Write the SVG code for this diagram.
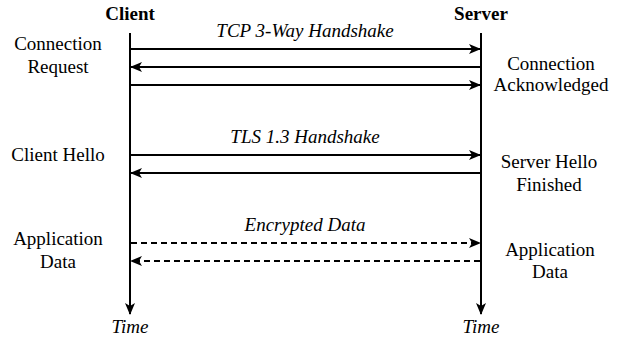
<svg xmlns="http://www.w3.org/2000/svg" width="623" height="344" viewBox="0 0 623 344">
<style>
.t{font-family:'Times New Roman','Liberation Serif',serif;font-size:19px;text-anchor:middle;fill:#000}
.b{font-weight:bold}
.i{font-style:italic}
.life{stroke:#000;stroke-width:2;fill:none}
.msg{stroke:#000;stroke-width:2;fill:none}
.dash{stroke-dasharray:6 4}
</style>
<defs>
<marker id="ah" viewBox="0 0 12 10" refX="11" refY="5" markerWidth="12" markerHeight="10" markerUnits="userSpaceOnUse" orient="auto">
<path d="M0,0 L12,5 L0,10 L3,5 Z" fill="#000"/>
</marker>
</defs>
<rect width="623" height="344" fill="#fff"/>
<g id="client">
<text class="t b" x="130" y="20" font-family="Times New Roman, Liberation Serif, serif">Client</text>
<line class="life" x1="130" y1="33" x2="130" y2="314" marker-end="url(#ah)"/>
<text class="t i" x="130" y="333" font-family="Times New Roman, Liberation Serif, serif">Time</text>
</g>
<g id="server">
<text class="t b" x="481" y="20" font-family="Times New Roman, Liberation Serif, serif">Server</text>
<line class="life" x1="481" y1="33" x2="481" y2="314" marker-end="url(#ah)"/>
<text class="t i" x="481" y="333" font-family="Times New Roman, Liberation Serif, serif">Time</text>
</g>
<g id="labels-left">
<text class="t" x="58" y="50" font-family="Times New Roman, Liberation Serif, serif">Connection</text>
<text class="t" x="58" y="73" font-family="Times New Roman, Liberation Serif, serif">Request</text>
<text class="t" x="58" y="161" font-family="Times New Roman, Liberation Serif, serif">Client Hello</text>
<text class="t" x="58" y="245" font-family="Times New Roman, Liberation Serif, serif">Application</text>
<text class="t" x="58" y="268" font-family="Times New Roman, Liberation Serif, serif">Data</text>
</g>
<g id="labels-right">
<text class="t" x="551" y="70" font-family="Times New Roman, Liberation Serif, serif">Connection</text>
<text class="t" x="551" y="91" font-family="Times New Roman, Liberation Serif, serif">Acknowledged</text>
<text class="t" x="549" y="168" font-family="Times New Roman, Liberation Serif, serif">Server Hello</text>
<text class="t" x="549" y="191" font-family="Times New Roman, Liberation Serif, serif">Finished</text>
<text class="t" x="550" y="256" font-family="Times New Roman, Liberation Serif, serif">Application</text>
<text class="t" x="550" y="278" font-family="Times New Roman, Liberation Serif, serif">Data</text>
</g>
<g id="connectors">
<text class="t i" x="305" y="37" font-family="Times New Roman, Liberation Serif, serif">TCP 3-Way Handshake</text>
<line class="msg" x1="131" y1="49" x2="480" y2="49" marker-end="url(#ah)"/>
<line class="msg" x1="480" y1="67" x2="131" y2="67" marker-end="url(#ah)"/>
<line class="msg" x1="131" y1="85" x2="480" y2="85" marker-end="url(#ah)"/>
<text class="t i" x="305" y="143" font-family="Times New Roman, Liberation Serif, serif">TLS 1.3 Handshake</text>
<line class="msg" x1="131" y1="155" x2="480" y2="155" marker-end="url(#ah)"/>
<line class="msg" x1="480" y1="173" x2="131" y2="173" marker-end="url(#ah)"/>
<text class="t i" x="305" y="231" font-family="Times New Roman, Liberation Serif, serif">Encrypted Data</text>
<line class="msg dash" x1="131" y1="243" x2="480" y2="243" marker-end="url(#ah)"/>
<line class="msg dash" x1="480" y1="261" x2="131" y2="261" marker-end="url(#ah)"/>
</g>
</svg>
